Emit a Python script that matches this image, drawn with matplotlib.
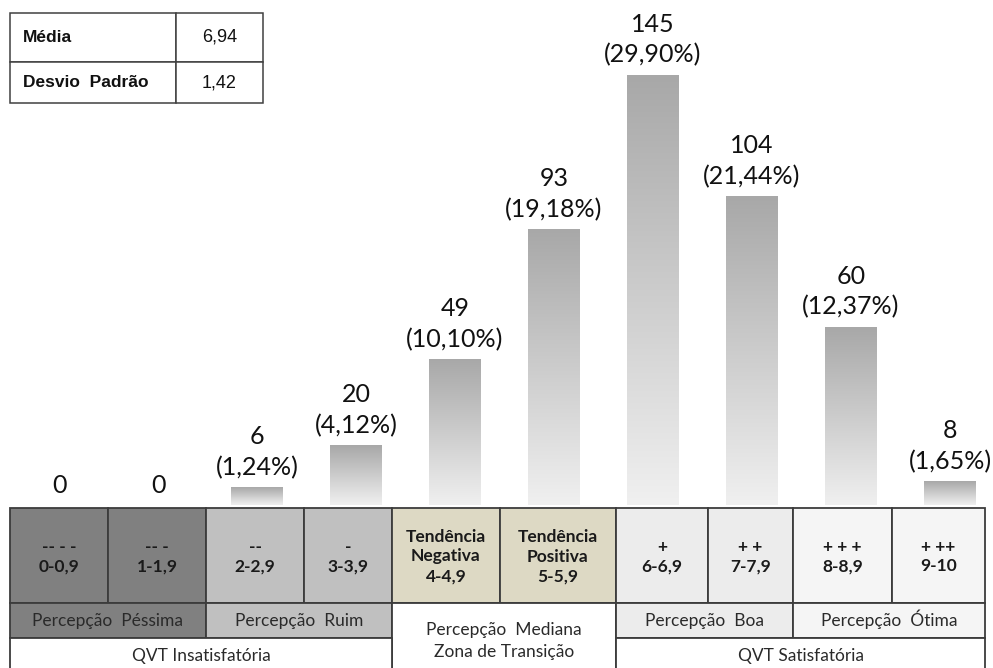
import numpy as np
import matplotlib
matplotlib.use("Agg")
import matplotlib.pyplot as plt
from matplotlib.colors import LinearSegmentedColormap
from matplotlib.patches import Rectangle

# ---- data ----
counts = [0, 0, 6, 20, 49, 93, 145, 104, 60, 8]
symbols = ["-- - -", "-- -", "--", "-", "Tendência\nNegativa", "Tendência\nPositiva",
           "+", "+ +", "+ + +", "+ ++"]
ranges = ["0-0,9", "1-1,9", "2-2,9", "3-3,9", "4-4,9", "5-5,9",
          "6-6,9", "7-7,9", "8-8,9", "9-10"]
cell_colors = ["#808080", "#808080", "#c0c0c0", "#c0c0c0", "#ddd9c4", "#ddd9c4",
               "#ececec", "#ececec", "#f5f5f5", "#f5f5f5"]
group_labels = ["Percepção  Péssima", "Percepção  Ruim",
                "Percepção  Mediana\nZona de Transição", "Percepção  Boa", "Percepção  Ótima"]
group_colors = ["#808080", "#c0c0c0", "#ffffff", "#ececec", "#f5f5f5"]
zone_labels = ["QVT Insatisfatória", "QVT Satisfatória"]
stat_names = ["Média", "Desvio  Padrão"]
stat_values = ["6,94", "1,42"]

total = sum(counts)

W, H = 993, 668
fig = plt.figure(figsize=(W / 100, H / 100), dpi=100)
fig.patch.set_facecolor("white")

LABEL_FONT = ["Lato", "DejaVu Sans"]

# ---- bar area ----
base_px = 505          # bar baseline, pixels from top
ax = fig.add_axes([10 / W, (H - base_px) / H, 975 / W, base_px / H])
ax.set_facecolor("none")
ax.axis("off")

bar_w = 0.525
grad_cmap = LinearSegmentedColormap.from_list("bar_grad", ["#f0f0f0", "#a8a8a8"])
grad = np.linspace(0, 1, 256).reshape(-1, 1)
for i, c in enumerate(counts):
    if c > 0:
        ax.imshow(grad, extent=[i - bar_w / 2, i + bar_w / 2, 0, c], origin="lower",
                  aspect="auto", cmap=grad_cmap, interpolation="bicubic", zorder=2)
        txt = f"{c}\n({c / total * 100:.2f}%)".replace(".", ",")
    else:
        txt = f"{c}"
    ax.annotate(txt, (i, c), xytext=(0, 6), textcoords="offset points",
                ha="center", va="bottom", fontsize=18, family=LABEL_FONT,
                color="#111111", linespacing=1.4, zorder=3)

ax.set_xlim((10 - 59) / 99, (985 - 59) / 99)
ax.set_ylim(0, base_px / (430 / 145))

# ---- classification table below the bars (pixel coordinates) ----
tab = fig.add_axes([0, 0, 1, 1])
tab.set_xlim(0, W)
tab.set_ylim(H, 0)
tab.axis("off")
tab.set_zorder(-1)

xb = [10, 108, 206, 304, 392, 500, 616, 708, 793, 892, 985]
r0, r1, r2, r3 = 508, 603, 638, 672
edge = "#3c3c3c"

for i in range(10):
    tab.add_patch(Rectangle((xb[i], r0), xb[i + 1] - xb[i], r1 - r0,
                            fc=cell_colors[i], ec=edge, lw=1.3))
    cx = (xb[i] + xb[i + 1]) / 2
    tab.text(cx, (r0 + r1) / 2 + 1, symbols[i] + "\n" + ranges[i], ha="center", va="center",
             fontsize=12.5, fontweight="bold", family=LABEL_FONT, color="#1a1a1a",
             linespacing=1.3)

group_spans = [(0, 2, r1, r2), (2, 4, r1, r2), (4, 6, r1, r3), (6, 8, r1, r2), (8, 10, r1, r2)]
for (a, b, y0, y1), lab, col in zip(group_spans, group_labels, group_colors):
    tab.add_patch(Rectangle((xb[a], y0), xb[b] - xb[a], y1 - y0, fc=col, ec=edge, lw=1.3))
    if y1 == r3:
        tab.text((xb[a] + xb[b]) / 2, 641, lab, ha="center", va="center", fontsize=12.5,
                 family=LABEL_FONT, color="#2a2a2a", linespacing=1.45)
    else:
        tab.text((xb[a] + xb[b]) / 2, 626, lab, ha="center", va="baseline", fontsize=12.5,
                 family=LABEL_FONT, color="#2a2a2a")

zone_spans = [(0, 4), (6, 10)]
for (a, b), lab in zip(zone_spans, zone_labels):
    tab.add_patch(Rectangle((xb[a], r2), xb[b] - xb[a], r3 - r2, fc="white", ec=edge, lw=1.3))
    tab.text((xb[a] + xb[b]) / 2, 661, lab, ha="center", va="baseline",
             fontsize=12.5, family=LABEL_FONT, color="#2a2a2a")

# ---- summary statistics box ----
sx = [10, 176, 263]
sy = [13, 62, 103]
STAT_FONT = ["Liberation Sans", "DejaVu Sans"]
for r in range(2):
    for c in range(2):
        tab.add_patch(Rectangle((sx[c], sy[r]), sx[c + 1] - sx[c], sy[r + 1] - sy[r],
                                fc="white", ec="#404040", lw=1.1))
    tab.text(sx[0] + 13, (sy[r] + sy[r + 1]) / 2, stat_names[r], ha="left", va="center",
             fontsize=12.5, fontweight="bold", family=STAT_FONT, color="#111111")
    tab.text((sx[1] + sx[2]) / 2, (sy[r] + sy[r + 1]) / 2, stat_values[r], ha="center",
             va="center", fontsize=13, family=STAT_FONT, color="#111111")

fig.savefig("out.png", dpi=100, facecolor="white")
